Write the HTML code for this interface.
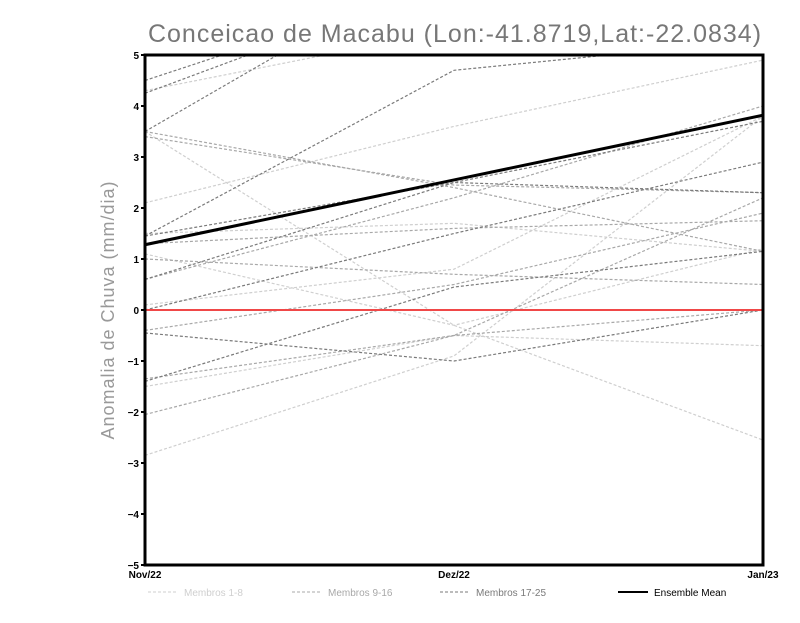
<!DOCTYPE html>
<html><head><meta charset="utf-8"><style>
body{margin:0;background:#fff;width:800px;height:618px;overflow:hidden}
svg text{font-family:"Liberation Sans",sans-serif}
</style></head><body>
<svg id="chart" width="800" height="618" viewBox="0 0 800 618">
<text x="455" y="42" text-anchor="middle" font-size="25" fill="#777" letter-spacing="1">Conceicao de Macabu (Lon:-41.8719,Lat:-22.0834)</text>
<text transform="translate(114,310) rotate(-90)" text-anchor="middle" font-size="18" fill="#999" letter-spacing="1">Anomalia de Chuva (mm/dia)</text>
<defs><clipPath id="pc"><rect x="145" y="55" width="618" height="510"/></clipPath></defs>
<g id="members" clip-path="url(#pc)"></g>
<g id="axes"></g>
</svg>
<script>
const categories=["Nov/22","Dez/22","Jan/23"];
const yTicks=[-5,-4,-3,-2,-1,0,1,2,3,4,5];
const light=[[2.1,3.6,4.9],[-2.85,-0.9,3.8],[-1.5,-0.5,-0.7],[3.5,-0.3,-2.55],[1.1,-0.3,1.2],[0.1,0.8,3.8],[1.5,1.7,1.15],[4.3,5.5,6.5]];
const medium=[[3.4,2.45,2.3],[3.5,2.4,1.15],[1.3,1.6,1.75],[1.0,0.7,0.5],[-0.4,0.5,1.9],[-2.05,-0.5,2.2],[-1.35,-0.5,0],[0.6,2.2,4.0]];
const dark=[[4.5,6.5,8],[3.5,7,9],[4.25,6.5,7],[1.45,4.7,5.3],[0,1.5,2.9],[-0.45,-1.0,0],[-1.4,0.45,1.15],[0.6,2.5,2.3],[1.45,2.5,3.7]];
const mean=[1.28,2.55,3.82];
const X0=145,X1=763,Y0=565,Y1=55;
const xs=i=>X0+(X1-X0)*i/(categories.length-1);
const ys=v=>Y0-(v+5)/10*(Y0-Y1);
const NS="http://www.w3.org/2000/svg";
const mg=document.getElementById('members'),ax=document.getElementById('axes');
function mk(t,a,p){const e=document.createElementNS(NS,t);for(const k in a)e.setAttribute(k,a[k]);p.appendChild(e);return e;}
function pts(s){return s.map((v,i)=>xs(i)+','+ys(v)).join(' ');}
[[light,'#cfcfcf','member-light'],[medium,'#a8a8a8','member-medium'],[dark,'#7a7a7a','member-dark']].forEach(([arr,c,n])=>{
 arr.forEach(s=>{const l=mk('polyline',{points:pts(s),fill:'none',stroke:c,'stroke-width':1.2,'stroke-dasharray':'3,2'},mg);
 
 });
});
const zl=mk('line',{x1:X0,x2:X1,y1:ys(0),y2:ys(0),stroke:'#f04848','stroke-width':2},mg);


const ml=mk('polyline',{points:pts(mean),fill:'none',stroke:'#000','stroke-width':3},mg);


const fr=mk('rect',{x:X0,y:Y1,width:X1-X0,height:Y0-Y1,fill:'none',stroke:'#000','stroke-width':3},ax);


yTicks.forEach(v=>{const t=mk('text',{x:X0-6,y:ys(v)+4,'text-anchor':'end','font-size':10,'font-weight':'bold'},ax);t.textContent=v<0?'\u2212'+(-v):v;


const k=mk('line',{x1:X0-4,x2:X0,y1:ys(v),y2:ys(v),stroke:'#000','stroke-width':2},ax);

});
categories.forEach((c,i)=>{const t=mk('text',{x:xs(i),y:578,'text-anchor':'middle','font-size':10,'font-weight':'bold'},ax);t.textContent=c;

});
const leg=[['Membros 1-8','#cfcfcf',148,'3,2',1],['Membros 9-16','#a8a8a8',292,'3,2',1],['Membros 17-25','#7a7a7a',440,'3,2',1],['Ensemble Mean','#000',618,'',2]];
leg.forEach(([n,c,x,d,w])=>{const g=mk('g',{},ax);


mk('line',{x1:x,x2:x+30,y1:592,y2:592,stroke:c,'stroke-width':w,'stroke-dasharray':d},g);
const t=mk('text',{x:x+36,y:596,'font-size':10,fill:w>1?'#000':c},g);t.textContent=n;});
</script>
</body></html>
